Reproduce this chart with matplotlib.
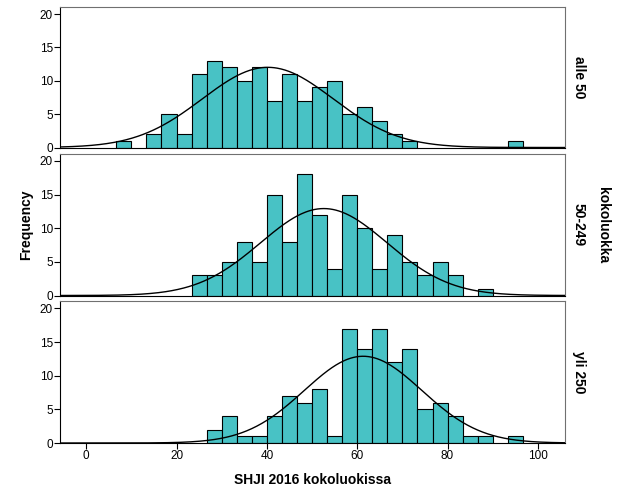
import numpy as np
import matplotlib
matplotlib.use('Agg')
import matplotlib.pyplot as plt

plt.rcParams['font.family'] = ['Liberation Sans', 'DejaVu Sans']

# histogram bins of width 10/3, counts
bin_width = 10 / 3
first_bin = [2, 7, 8]   # index of the first bin edge (edge = k * bin_width)

counts_alle50 = [1, 0, 2, 5, 2, 11, 13, 12, 10, 12, 7, 11, 7, 9, 10, 5, 6, 4, 2, 1,
                 0, 0, 0, 0, 0, 0, 1]
counts_50_249 = [3, 3, 5, 8, 5, 15, 8, 18, 12, 4, 15, 10, 4, 9, 5, 3, 5, 3, 0, 1]
counts_yli250 = [2, 4, 1, 1, 4, 7, 6, 8, 1, 17, 14, 17, 12, 14, 5, 6, 4, 1, 1, 0, 1]

groups = ['alle 50', '50-249', 'yli 250']
all_counts = [counts_alle50, counts_50_249, counts_yli250]

# normal curve parameters (mean, sd)
means = [40.2, 52.6, 61.3]
sds = [14.5, 14.0, 13.0]

bar_color = '#48C2C5'

fig = plt.figure(figsize=(6.29, 5.04), dpi=100)
W, H = 629, 504
panels = [(6.7, 147.5), (153.5, 295.5), (301, 443)]
left, right = 60, 565

for i, (top, bot) in enumerate(panels):
    ax = fig.add_axes([left / W, 1 - bot / H, (right - left) / W, (bot - top) / H])
    counts = np.array(all_counts[i])
    n = counts.sum()
    k0 = first_bin[i]
    lefts = (np.arange(len(counts)) + k0) * bin_width
    mask = counts > 0
    ax.bar(lefts[mask], counts[mask], width=bin_width, align='edge',
           color=bar_color, edgecolor='black', linewidth=0.8, zorder=2)
    xs = np.linspace(-6, 106, 500)
    ys = n * bin_width / (sds[i] * np.sqrt(2 * np.pi)) * np.exp(-0.5 * ((xs - means[i]) / sds[i]) ** 2)
    ax.plot(xs, ys, color='black', linewidth=1.0, zorder=3)
    ax.set_xlim(-5.8, 106)
    ax.set_ylim(0, 21.1)
    ax.set_yticks([0, 5, 10, 15, 20])
    ax.set_xticks([0, 20, 40, 60, 80, 100])
    ax.tick_params(direction='out', length=4, width=0.8, labelsize=8.5, pad=1)
    if i < 2:
        ax.tick_params(axis='x', bottom=False, labelbottom=False)
    for s in ax.spines.values():
        s.set_linewidth(0.8)
    ax.spines['top'].set_color('#707070')
    ax.spines['right'].set_color('#707070')
    fig.text(579 / W, 1 - (top + bot) / 2 / H, groups[i], rotation=-90,
             ha='center', va='center', fontsize=10, fontweight='bold')

fig.text(603 / W, 1 - 225 / H, 'kokoluokka', rotation=-90,
         ha='center', va='center', fontsize=10, fontweight='bold')
fig.text(26 / W, 1 - 225 / H, 'Frequency', rotation=90,
         ha='center', va='center', fontsize=10, fontweight='bold')
fig.text(312 / W, 1 - 480 / H, 'SHJI 2016 kokoluokissa',
         ha='center', va='center', fontsize=10, fontweight='bold')

fig.savefig('out.png', dpi=100)
